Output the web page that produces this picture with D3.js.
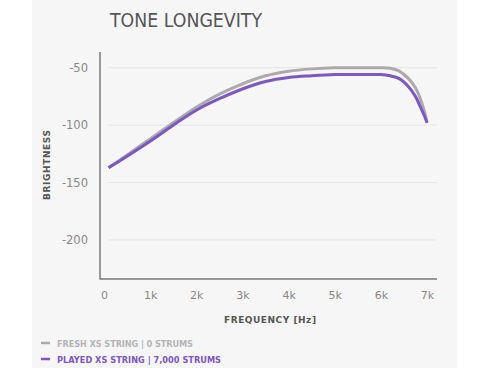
<!DOCTYPE html>
<html><head><meta charset="utf-8">
<script src="https://cdn.jsdelivr.net/npm/d3@7"></script>
<style>
html,body{margin:0;padding:0;background:#fff;}
svg{display:block;}
text{font-family:"DejaVu Sans",sans-serif;}
</style></head>
<body>
<svg id="c" width="490" height="368"></svg>
<script>
const freqHz = [100, 500, 1000, 1500, 2000, 2500, 3000, 3500, 4000, 4500, 5000, 5500, 6000, 6200, 6400, 6600, 6750, 6850, 6950, 7000];
const freshValues = [-137, -126, -112, -98, -84.5, -73, -64, -57, -53, -51, -50, -50, -50, -50.5, -53, -59.5, -67.5, -76.5, -89, -98];
const playedValues = [-137, -127, -114, -100, -87, -77, -68.5, -62, -58.5, -57, -56, -56, -56, -57, -59.5, -66.5, -75, -83.5, -92.5, -98];
const xTicks = [0, 1000, 2000, 3000, 4000, 5000, 6000, 7000];
const xTickLabels = ["0", "1k", "2k", "3k", "4k", "5k", "6k", "7k"];
const yTicks = [-50, -100, -150, -200];
const yTickLabels = ["-50", "-100", "-150", "-200"];
const seriesNames = ["FRESH XS STRING | 0 STRUMS", "PLAYED XS STRING | 7,000 STRUMS"];
const seriesColors = ["#ababab", "#7d57c4"];

const svg = d3.select("#c");
svg.append("rect").attr("x", 32).attr("y", 0).attr("width", 425).attr("height", 368).attr("fill", "#f6f6f6");

const x = d3.scaleLinear().domain([-87, 7217]).range([100, 437]);
const y = d3.scaleLinear().domain([-234, -36.3]).range([279, 52]);

// title
svg.append("text").attr("x", 110).attr("y", 27).attr("font-size", 19).attr("fill", "#555")
  .attr("font-family", "Open Sans, sans-serif").attr("textLength", 152).attr("lengthAdjust", "spacingAndGlyphs")
  .text("TONE LONGEVITY");

// grid
svg.append("g").selectAll("line").data(yTicks).join("line")
  .attr("x1", 108).attr("x2", 437).attr("y1", d => y(d)).attr("y2", d => y(d))
  .attr("stroke", "#e4e4e4").attr("stroke-width", 1);

// y axis
const yAxis = svg.append("g").attr("transform", "translate(100,0)")
  .call(d3.axisLeft(y).tickValues(yTicks).tickSize(0).tickPadding(12).tickFormat((d, i) => yTickLabels[i]));
yAxis.select(".domain").remove();
yAxis.selectAll("text").attr("fill", "#888").attr("font-size", 11.5).attr("font-family", "DejaVu Sans, sans-serif");

// x axis
const xAxis = svg.append("g").attr("transform", "translate(0,279)")
  .call(d3.axisBottom(x).tickValues(xTicks).tickSize(0).tickPadding(12).tickFormat((d, i) => xTickLabels[i]));
xAxis.select(".domain").remove();
xAxis.selectAll("text").attr("fill", "#888").attr("font-size", 11).attr("font-family", "DejaVu Sans, sans-serif");

// axis lines
svg.append("path").attr("d", `M100,52V279H437`).attr("fill", "none").attr("stroke", "#7a7a7a").attr("stroke-width", 1.5);

// lines
const line = d3.line().curve(d3.curveCatmullRom.alpha(0.5));
[freshValues, playedValues].forEach((vals, i) => {
  svg.append("path")
    .attr("d", line(freqHz.map((f, j) => [x(f), y(vals[j])])))
    .attr("fill", "none").attr("stroke", seriesColors[i]).attr("stroke-width", 3)
    .attr("stroke-linecap", "butt");
});

// axis titles
svg.append("text").attr("transform", "translate(50,165) rotate(-90)").attr("text-anchor", "middle")
  .attr("font-size", 9).attr("font-weight", "bold").attr("fill", "#555")
  .attr("textLength", 70).attr("lengthAdjust", "spacing")
  .text("BRIGHTNESS");
svg.append("text").attr("x", 270).attr("y", 323).attr("text-anchor", "middle")
  .attr("font-size", 9).attr("font-weight", "bold").attr("fill", "#555")
  .attr("textLength", 92).attr("lengthAdjust", "spacing")
  .text("FREQUENCY [Hz]");

// legend
const legendLengths = [136, 164];
seriesNames.forEach((n, i) => {
  const ly = 343 + i * 16;
  svg.append("line").attr("x1", 41).attr("x2", 50).attr("y1", ly).attr("y2", ly)
    .attr("stroke", seriesColors[i]).attr("stroke-width", 2.5);
  svg.append("text").attr("x", 57).attr("y", ly + 3.5).attr("font-size", 8.2).attr("font-weight", "bold")
    .attr("fill", i === 0 ? "#b5b5b5" : "#7d57c4")
    .attr("textLength", legendLengths[i]).attr("lengthAdjust", "spacing")
    .text(n);
});
</script>
</body></html>
